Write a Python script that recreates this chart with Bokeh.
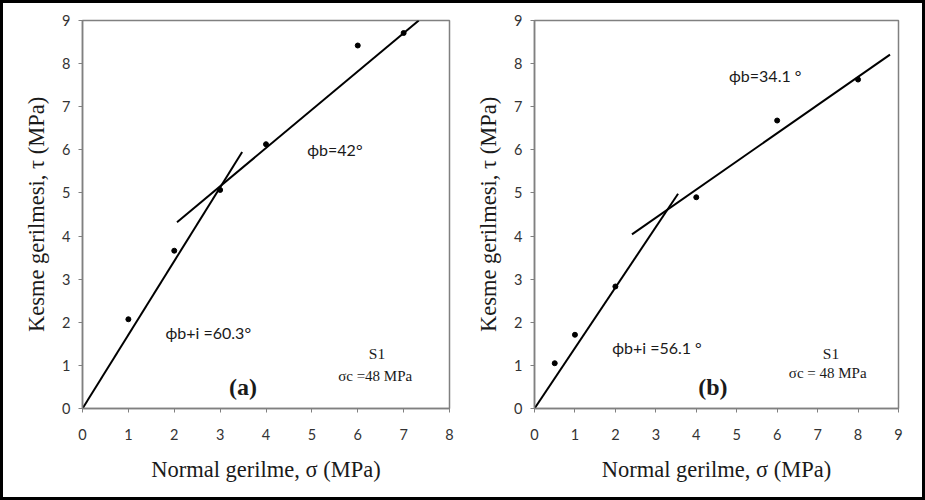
from bokeh.plotting import figure
from bokeh.layouts import row
from bokeh.models import Range1d, FixedTicker
from bokeh.core.properties import value
from bokeh.embed import file_html
from bokeh.resources import INLINE

# ---- data (a) ----
a_sigma = [1, 2, 3, 4, 6, 7]
a_tau = [2.07, 3.66, 5.07, 6.13, 8.42, 8.71]
a_fit_bi_x = [0.0, 3.48]
a_fit_bi_y = [0.0, 5.95]
a_fit_b_x = [2.06, 7.33]
a_fit_b_y = [4.32, 9.0]

# ---- data (b) ----
b_sigma = [0.5, 1, 2, 4, 6, 8]
b_tau = [1.05, 1.71, 2.83, 4.90, 6.68, 7.63]
b_fit_bi_x = [0.0, 3.55]
b_fit_bi_y = [0.0, 4.98]
b_fit_b_x = [2.41, 8.79]
b_fit_b_y = [4.04, 8.21]

a_xticks = [0, 1, 2, 3, 4, 5, 6, 7, 8]
b_xticks = [0, 1, 2, 3, 4, 5, 6, 7, 8, 9]
yticks = [0, 1, 2, 3, 4, 5, 6, 7, 8, 9]

SERIF = "Liberation Serif"
SANS = "Lato"
FRAME = "#808080"


def make_fig(w, bl, br, xmax, xticks):
    p = figure(width=w, height=494, output_backend="svg", toolbar_location=None,
               x_range=Range1d(0, xmax), y_range=Range1d(0, 9),
               min_border_left=bl, min_border_right=br, min_border_top=17,
               min_border_bottom=89)
    p.xgrid.visible = False
    p.ygrid.visible = False
    p.outline_line_color = FRAME
    p.outline_line_width = 1.5
    p.background_fill_color = "white"
    p.border_fill_color = "white"
    p.xaxis.ticker = FixedTicker(ticks=xticks)
    p.yaxis.ticker = FixedTicker(ticks=yticks)
    for ax in (p.xaxis[0], p.yaxis[0]):
        ax.axis_line_color = FRAME
        ax.axis_line_width = 1.5
        ax.major_tick_line_color = FRAME
        ax.major_tick_out = 4
        ax.major_tick_in = 0
        ax.minor_tick_line_color = None
        ax.major_label_text_font = SANS
        ax.major_label_text_font_size = "14.5px"
        ax.major_label_text_color = "#333333"
        ax.axis_label_text_font = SERIF
        ax.axis_label_text_font_size = "22.5px"
        ax.axis_label_text_font_style = "normal"
        ax.axis_label_text_color = "#1a1a1a"
    p.xaxis.major_label_standoff = 16
    p.yaxis.major_label_standoff = 8
    p.xaxis.axis_label = "Normal gerilme, σ (MPa)"
    p.yaxis.axis_label = "Kesme gerilmesi, τ (MPa)"
    p.xaxis.axis_label_standoff = 14
    p.yaxis.axis_label_standoff = 10
    return p


def annotate(p, x, y, txt, font, size, align="left", style="normal"):
    p.text(x=[x], y=[y], text=[txt], text_font=value(font), text_font_size=size,
           text_align=align, text_baseline="middle", text_color="#1a1a1a",
           text_font_style=style)


# ---- left (a) ----
p1 = make_fig(460, 79, 14, 8, a_xticks)
p1.line(a_fit_bi_x, a_fit_bi_y, line_color="black", line_width=2)
p1.line(a_fit_b_x, a_fit_b_y, line_color="black", line_width=2)
p1.scatter(a_sigma, a_tau, size=5, color="black")
annotate(p1, 4.9, 6.0, "ϕb=42°", SANS, "16px")
annotate(p1, 1.81, 1.77, "ϕb+i =60.3°", SANS, "16px")
annotate(p1, 3.5, 0.49, "(a)", SERIF, "24px", "center", "bold")
annotate(p1, 6.42, 1.28, "S1", SERIF, "15.5px", "center")
annotate(p1, 6.38, 0.76, "σc =48 MPa", SERIF, "15px", "center")

# ---- right (b) ----
p2 = make_fig(459, 71, 24, 9, b_xticks)
p2.line(b_fit_bi_x, b_fit_bi_y, line_color="black", line_width=2)
p2.line(b_fit_b_x, b_fit_b_y, line_color="black", line_width=2)
p2.scatter(b_sigma, b_tau, size=5, color="black")
annotate(p2, 4.81, 7.73, "ϕb=34.1 °", SANS, "16px")
annotate(p2, 1.92, 1.42, "ϕb+i =56.1 °", SANS, "16px")
annotate(p2, 4.41, 0.49, "(b)", SERIF, "24px", "center", "bold")
annotate(p2, 7.33, 1.28, "S1", SERIF, "15.5px", "center")
annotate(p2, 7.25, 0.82, "σc = 48 MPa", SERIF, "15px", "center")

layout = row(p1, p2, spacing=0,
             styles={"border": "3px solid black", "background-color": "white"})

open("out.html", "w").write(file_html(layout, INLINE))
